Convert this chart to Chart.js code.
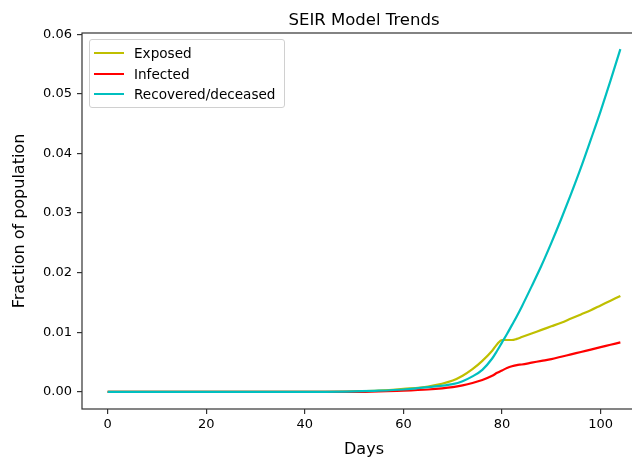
<!DOCTYPE html>
<html>
<head>
<meta charset="utf-8">
<script src="https://cdn.jsdelivr.net/npm/chart.js@4.4.0/dist/chart.umd.min.js"></script>
<style>
  html, body { margin: 0; padding: 0; background: #fff; overflow: hidden; }
  #wrap { position: relative; width: 660px; height: 459px; }
  #legend {
    position: absolute; left: 89px; top: 39px; width: 194px; height: 67px;
    border: 1px solid #d0d0d0; border-radius: 3px; background: rgba(255,255,255,0.8);
    font-family: 'DejaVu Sans', sans-serif; font-size: 13.6px; color: #000;
  }
  #legend .item { position: absolute; left: 0; height: 20px; line-height: 20px; white-space: nowrap; }
  #legend .swatch { position: absolute; left: 4px; top: 9px; width: 30px; height: 2px; }
  #legend .label { position: absolute; left: 44px; top: 0; }
</style>
</head>
<body>
<div id="wrap">
  <canvas id="chart" width="660" height="459"></canvas>
  <div id="legend"></div>
</div>
<script>
// 데이터
const days = [0, 10, 20, 30, 40, 50, 55, 60, 65, 70, 72, 74, 76, 78, 79, 80, 81, 82, 83, 84, 86, 88, 90, 92, 94, 96, 98, 100, 102, 104];
const exposed = [0, 0, 0, 0, 0, 0.0001, 0.0002, 0.0005, 0.0009, 0.0019, 0.0027, 0.0038, 0.0052, 0.0069, 0.0080, 0.0087, 0.0087, 0.0087, 0.0089, 0.0092, 0.0098, 0.0104, 0.0110, 0.0116, 0.0123, 0.0130, 0.0137, 0.0145, 0.0153, 0.0161];
const infected = [0, 0, 0, 0, 0, 0, 0.0001, 0.0002, 0.0004, 0.0008, 0.0011, 0.0015, 0.0020, 0.0027, 0.0032, 0.0036, 0.0040, 0.0043, 0.0045, 0.0046, 0.0049, 0.0052, 0.0055, 0.0059, 0.0063, 0.0067, 0.0071, 0.0075, 0.0079, 0.0083];
const recovered = [0, 0, 0, 0, 0, 0.0001, 0.0002, 0.0004, 0.0008, 0.0013, 0.0018, 0.0026, 0.0037, 0.0056, 0.0069, 0.0083, 0.0097, 0.0112, 0.0127, 0.0143, 0.0177, 0.0212, 0.0250, 0.0290, 0.0332, 0.0376, 0.0423, 0.0471, 0.0522, 0.0575];
const xTicks = [0, 20, 40, 60, 80, 100];
const yTicks = [0, 0.01, 0.02, 0.03, 0.04, 0.05, 0.06];

const font = 'DejaVu Sans';
const pts = arr => days.map((d, i) => ({ x: d, y: arr[i] }));

const series = [
    { label: 'Exposed', data: pts(exposed), color: '#bfbf00', order: 3 },
    { label: 'Infected', data: pts(infected), color: '#ff0000', order: 2 },
    { label: 'Recovered/deceased', data: pts(recovered), color: '#00bfbf', order: 1 }
];

// 제목 + 테두리
const frame = {
    id: 'frame',
    afterDraw(chart) {
        const { ctx, chartArea: a } = chart;
        ctx.save();
        ctx.strokeStyle = '#333';
        ctx.lineWidth = 1.2;
        ctx.strokeRect(a.left, a.top, a.right - a.left, a.bottom - a.top);
        ctx.fillStyle = '#000';
        ctx.font = '16.5px "' + font + '"';
        ctx.textAlign = 'center';
        ctx.textBaseline = 'alphabetic';
        ctx.fillText('SEIR Model Trends', (a.left + a.right) / 2, 25);
        ctx.restore();
    }
};

const axisGrid = { display: true, drawOnChartArea: false, drawTicks: true, tickLength: 5, color: '#333', lineWidth: 1.2 };

const chart = new Chart(document.getElementById('chart'), {
    type: 'line',
    data: {
        datasets: series.map(s => ({
            label: s.label,
            data: s.data,
            borderColor: s.color,
            backgroundColor: s.color,
            borderWidth: 2.2,
            pointRadius: 0,
            cubicInterpolationMode: 'monotone',
            order: s.order
        }))
    },
    options: {
        responsive: false,
        animation: false,
        layout: { padding: { top: 33, right: 14, left: 0, bottom: 0 } },
        plugins: { legend: { display: false }, title: { display: false }, tooltip: { enabled: false } },
        scales: {
            x: {
                type: 'linear',
                min: -5.2,
                max: 109.2,
                grid: axisGrid,
                border: { display: false },
                afterBuildTicks: s => { s.ticks = xTicks.map(v => ({ value: v })); },
                afterFit: s => { s.height = 50; },
                ticks: { color: '#000', padding: 3, font: { family: font, size: 13 } },
                title: { display: true, text: 'Days', color: '#000', font: { family: font, size: 16 }, padding: { top: 0, bottom: 0 } }
            },
            y: {
                type: 'linear',
                min: -0.00287,
                max: 0.0602,
                grid: axisGrid,
                border: { display: false },
                afterBuildTicks: s => { s.ticks = yTicks.map(v => ({ value: v })); },
                afterFit: s => { s.width = 82; },
                ticks: { color: '#000', padding: 5, font: { family: font, size: 13 }, callback: v => v.toFixed(2) },
                title: { display: true, text: 'Fraction of population', color: '#000', font: { family: font, size: 16 }, padding: { top: 10, bottom: 0 } }
            }
        }
    },
    plugins: [frame]
});

// 범례
const legend = document.getElementById('legend');
series.forEach((s, i) => {
    const item = document.createElement('div');
    item.className = 'item';
    item.style.top = (3 + i * 20.5) + 'px';
    item.innerHTML = '<span class="swatch" style="background:' + s.color + '"></span><span class="label">' + s.label + '</span>';
    legend.appendChild(item);
});
</script>
</body>
</html>
